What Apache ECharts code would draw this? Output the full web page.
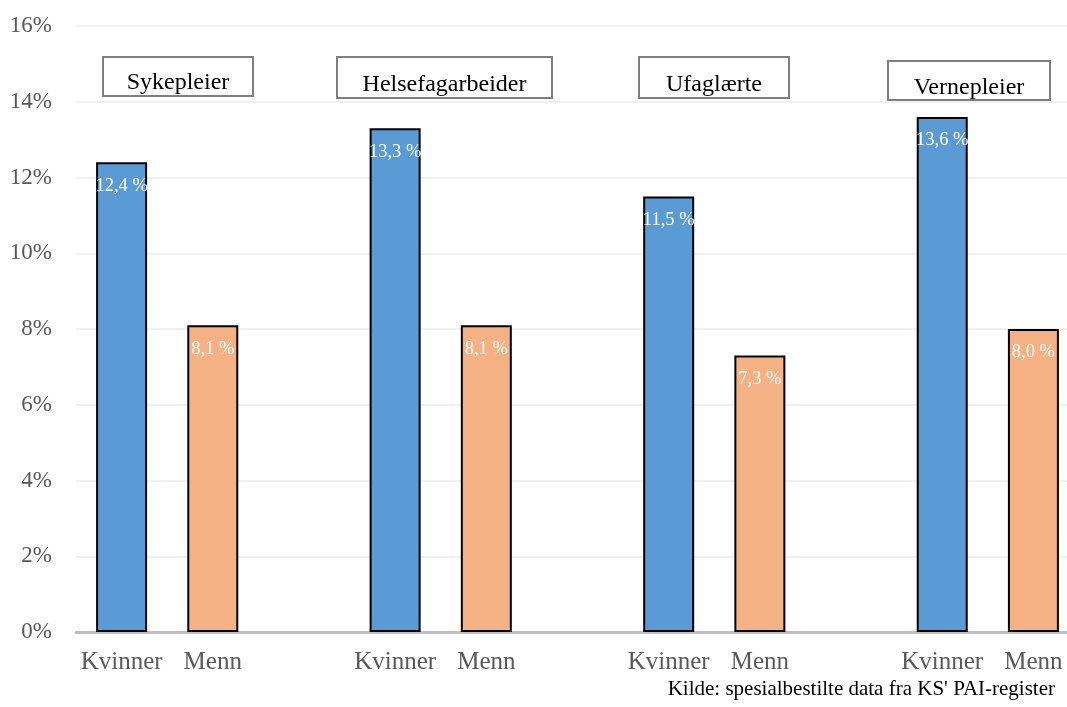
<!DOCTYPE html>
<html>
<head>
<meta charset="utf-8">
<script src="https://cdn.jsdelivr.net/npm/echarts@6/dist/echarts.min.js"></script>
<style>
  html, body { margin: 0; padding: 0; background: #ffffff; }
  #chart { width: 1067px; height: 707px; }
</style>
</head>
<body>
<div id="chart"></div>
<script>
// Occupational groups and share (%) per gender
const groups = ['Sykepleier', 'Helsefagarbeider', 'Ufaglærte', 'Vernepleier'];
const genderLabels = ['Kvinner', 'Menn'];
const women = [12.4, 13.3, 11.5, 13.6];
const men = [8.1, 8.1, 7.3, 8.0];
const yTicks = [0, 2, 4, 6, 8, 10, 12, 14, 16];
const sourceNote = "Kilde: spesialbestilte data fra KS' PAI-register";

const SERIF = "'Liberation Serif', 'Times New Roman', 'DejaVu Serif', serif";

// Build the category axis: Kvinner, Menn, spacer, ... (no spacer after the last group)
const categories = [];
const womenData = [];
const menData = [];
groups.forEach((g, i) => {
  categories.push(genderLabels[0]);
  womenData.push(women[i]);
  menData.push(null);
  categories.push(genderLabels[1]);
  womenData.push(null);
  menData.push(men[i]);
  if (i < groups.length - 1) {
    categories.push('');
    womenData.push(null);
    menData.push(null);
  }
});

const fmtPct = v => v.toFixed(1).replace('.', ',') + ' %';

const barLabel = {
  show: true,
  position: 'insideTop',
  distance: 14,
  color: '#ffffff',
  fontFamily: SERIF,
  fontSize: 18.5,
  formatter: p => fmtPct(p.value)
};

// Group titles framed in grey boxes above each pair of bars
const boxes = [
  { text: groups[0], x: 103, y: 57, w: 150, h: 39, ty: 83 },
  { text: groups[1], x: 337, y: 57, w: 215, h: 41, ty: 85 },
  { text: groups[2], x: 639, y: 57, w: 150, h: 41, ty: 85 },
  { text: groups[3], x: 888, y: 61, w: 162, h: 39, ty: 88 }
];
const graphics = [];
boxes.forEach(b => {
  graphics.push({
    type: 'rect',
    shape: { x: b.x, y: b.y, width: b.w, height: b.h },
    style: { fill: '#ffffff', stroke: '#7f7f7f', lineWidth: 2 },
    z: 10
  });
  graphics.push({
    type: 'text',
    x: b.x + b.w / 2,
    y: b.ty,
    style: {
      text: b.text,
      fill: '#000000',
      font: '24px ' + SERIF,
      textAlign: 'center',
      textVerticalAlign: 'middle'
    },
    z: 11
  });
});
graphics.push({
  type: 'text',
  right: 12,
  top: 679,
  style: {
    text: sourceNote,
    fill: '#000000',
    font: '21px ' + SERIF,
    textAlign: 'right'
  }
});

const chart = echarts.init(document.getElementById('chart'), null, { renderer: 'canvas' });
chart.setOption({
  backgroundColor: '#ffffff',
  animation: false,
  // the plot area runs on past the right edge of the page
  grid: { left: 76, top: 26, width: 1003, bottom: 75, containLabel: false, outerBoundsMode: 'none' },
  xAxis: {
    type: 'category',
    data: categories,
    axisTick: { show: false },
    axisLine: { show: true, lineStyle: { color: '#bfbfbf', width: 3 } },
    axisLabel: {
      interval: 0,
      margin: 18,
      color: '#595959',
      fontFamily: SERIF,
      fontSize: 25
    },
    splitLine: { show: false }
  },
  yAxis: {
    type: 'value',
    min: yTicks[0],
    max: yTicks[yTicks.length - 1],
    interval: yTicks[1] - yTicks[0],
    axisLine: { show: false },
    axisTick: { show: false },
    axisLabel: {
      margin: 24,
      color: '#595959',
      fontFamily: SERIF,
      fontSize: 23,
      formatter: v => v + '%'
    },
    splitLine: { lineStyle: { color: '#f0f0f0', width: 2 } }
  },
  series: [
    {
      name: genderLabels[0],
      type: 'bar',
      data: womenData,
      barWidth: 51,
      barGap: '-100%',
      itemStyle: { color: '#5b9bd5', borderColor: '#000000', borderWidth: 2 },
      label: barLabel
    },
    {
      name: genderLabels[1],
      type: 'bar',
      data: menData,
      barWidth: 51,
      barGap: '-100%',
      itemStyle: { color: '#f4b183', borderColor: '#000000', borderWidth: 2 },
      label: barLabel
    }
  ],
  graphic: graphics
});
</script>
</body>
</html>
